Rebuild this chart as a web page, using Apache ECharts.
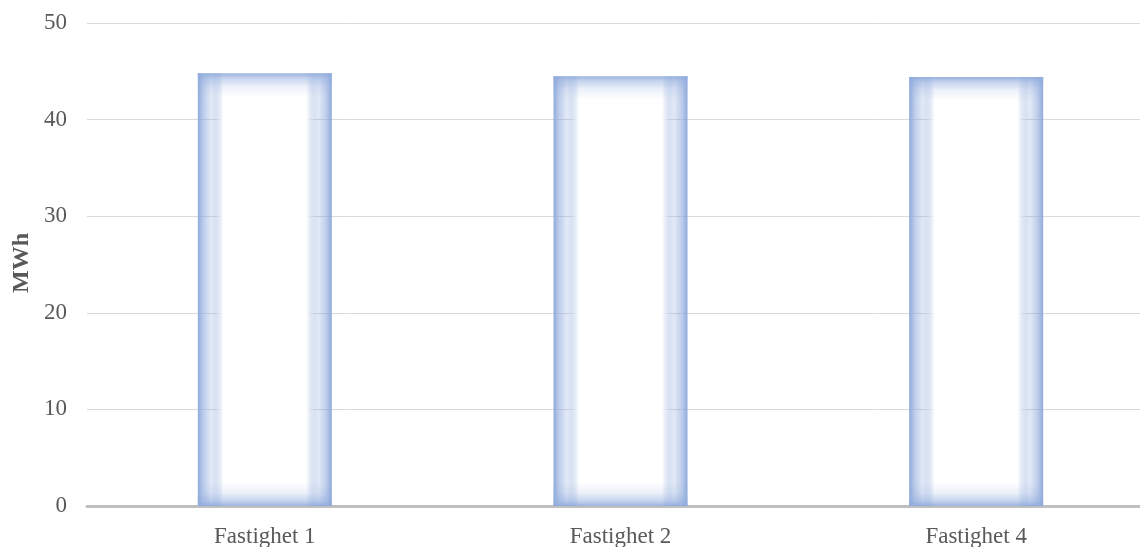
<!DOCTYPE html>
<html>
<head>
<meta charset="utf-8">
<script src="https://cdn.jsdelivr.net/npm/echarts@6/dist/echarts.min.js"></script>
<style>
html,body{margin:0;padding:0;background:#fff;}
#chart{width:1140px;height:547px;}
</style>
</head>
<body>
<div id="chart"></div>
<script>
const categories = ['Fastighet 1', 'Fastighet 2', 'Fastighet 4'];
const values = [44.8, 44.5, 44.4];
const yTicks = [0, 10, 20, 30, 40, 50];
const yAxisTitle = 'MWh';

const blue = 'rgba(143,170,220,';
const hGrad = new echarts.graphic.LinearGradient(0, 0, 1, 0, [
  {offset: 0, color: blue + '1)'},
  {offset: 0.04, color: blue + '0.6)'},
  {offset: 0.1, color: blue + '0.25)'},
  {offset: 0.19, color: '#ffffff'},
  {offset: 0.81, color: '#ffffff'},
  {offset: 0.9, color: blue + '0.25)'},
  {offset: 0.96, color: blue + '0.6)'},
  {offset: 1, color: blue + '1)'}
]);
const vGrad = new echarts.graphic.LinearGradient(0, 0, 0, 1, [
  {offset: 0, color: blue + '0.9)'},
  {offset: 0.012, color: blue + '0.5)'},
  {offset: 0.03, color: blue + '0.18)'},
  {offset: 0.055, color: blue + '0)'},
  {offset: 0.945, color: blue + '0)'},
  {offset: 0.97, color: blue + '0.18)'},
  {offset: 0.988, color: blue + '0.5)'},
  {offset: 1, color: blue + '0.9)'}
]);

const chart = echarts.init(document.getElementById('chart'), null, {renderer: 'canvas'});
const font = '"Liberation Serif", "Times New Roman", serif';
chart.setOption({
  animation: false,
  grid: {left: 87, top: 23, right: -14, bottom: 41, containLabel: false, outerBoundsMode: 'none'},
  xAxis: {
    type: 'category',
    data: categories,
    axisLine: {lineStyle: {color: '#bfbfbf', width: 3}},
    axisTick: {show: false},
    axisLabel: {color: '#595959', fontFamily: font, fontSize: 23, margin: 19}
  },
  yAxis: {
    type: 'value',
    min: yTicks[0],
    max: yTicks[yTicks.length - 1],
    interval: 10,
    axisLine: {show: false},
    axisTick: {show: false},
    splitLine: {lineStyle: {color: '#d9d9d9', width: 1}},
    axisLabel: {color: '#595959', fontFamily: font, fontSize: 23, margin: 20}
  },
  graphic: [{
    type: 'text',
    rotation: Math.PI / 2,
    x: 22, y: 263,
    style: {text: yAxisTitle, fill: '#595959', font: 'bold 24px ' + font, textAlign: 'center', textVerticalAlign: 'middle'}
  }],
  series: [{
    type: 'bar',
    data: values,
    barWidth: 134,
    itemStyle: {color: hGrad}
  }, {
    type: 'bar',
    data: values,
    barWidth: 134,
    barGap: '-100%',
    itemStyle: {color: vGrad}
  }]
});
</script>
</body>
</html>
